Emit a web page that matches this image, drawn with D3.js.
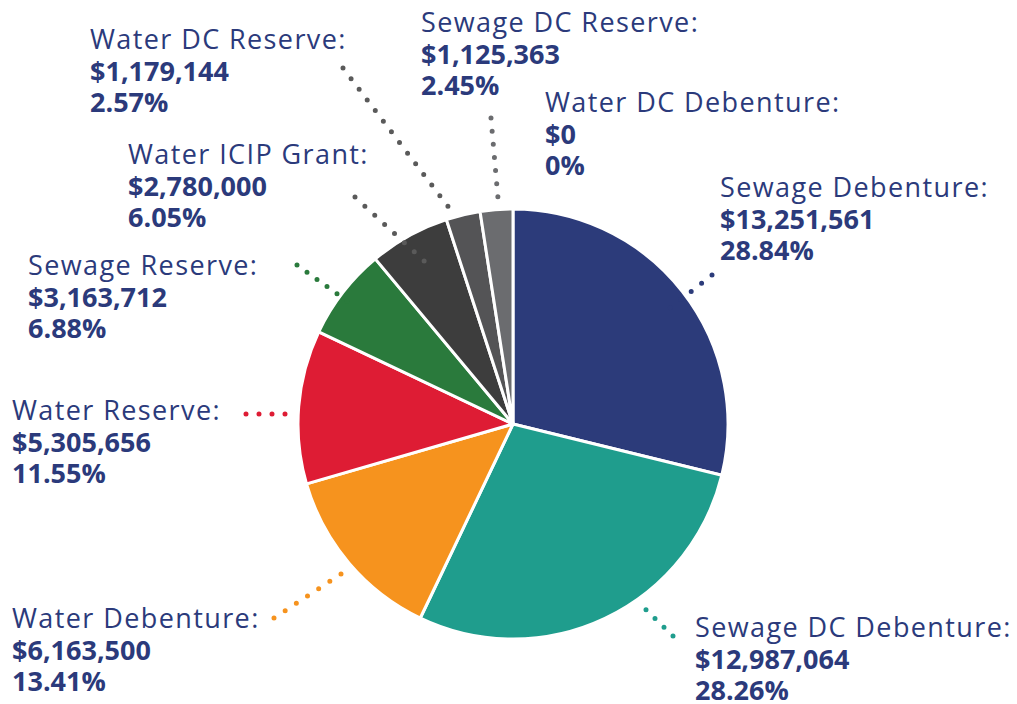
<!DOCTYPE html>
<html>
<head>
<meta charset="utf-8">
<script src="https://cdn.jsdelivr.net/npm/d3@7"></script>
<style>
  html, body { margin: 0; padding: 0; background: #ffffff; }
  svg { display: block; }
  text { font-family: "Open Sans", "Noto Sans", sans-serif; }
</style>
</head>
<body>
<svg id="chart" width="1017" height="704"></svg>
<script>
// Funding sources, clockwise from 12 o'clock
const categories = [
  "Sewage Debenture",
  "Sewage DC Debenture",
  "Water Debenture",
  "Water Reserve",
  "Sewage Reserve",
  "Water ICIP Grant",
  "Water DC Reserve",
  "Sewage DC Reserve",
  "Water DC Debenture"
];
const amounts = [13251561, 12987064, 6163500, 5305656, 3163712, 2780000, 1179144, 1125363, 0];
const percentLabels = ["28.84%", "28.26%", "13.41%", "11.55%", "6.88%", "6.05%", "2.57%", "2.45%", "0%"];
const sliceColors = ["#2c3b7a", "#1f9d8d", "#f6931e", "#de1c34", "#2a7a3c", "#3d3d3d", "#545456", "#6b6c6f", "#9a9a9a"];
const dotColors   = ["#2c3b7a", "#1f9d8d", "#f6931e", "#de1c34", "#2a7a3c", "#5a5a5a", "#5a5a5a", "#6b6c6f", "#9a9a9a"];

// Label placement: left x and baseline of the first line
const labelLayout = [
  { x: 720, y: 197 },
  { x: 695, y: 637 },
  { x: 12,  y: 628 },
  { x: 12,  y: 420 },
  { x: 28,  y: 275 },
  { x: 128, y: 164 },
  { x: 90,  y: 49 },
  { x: 421, y: 32 },
  { x: 545, y: 112 }
];
// Dotted leader from the label towards its slice
const leaderLayout = [
  { x1: 712, y1: 275, x2: 660, y2: 316 },
  { x1: 673, y1: 636, x2: 637, y2: 601 },
  { x1: 274, y1: 618, x2: 341, y2: 574 },
  { x1: 246, y1: 414, x2: 298, y2: 414 },
  { x1: 297, y1: 265, x2: 347, y2: 301 },
  { x1: 355, y1: 197, x2: 434, y2: 270 },
  { x1: 343, y1: 68,  x2: 456, y2: 217 },
  { x1: 491, y1: 118, x2: 499, y2: 210 },
  null
];

const svg = d3.select("#chart");
const cx = 513, cy = 424, radius = 215;
const textColor = "#2b3a7b";
const fmt = d3.format("$,");

const data = categories.map((name, i) => ({ name, value: amounts[i], pct: percentLabels[i], i }));

const pie = d3.pie().sort(null).value(d => d.value).startAngle(0).endAngle(2 * Math.PI);
const arc = d3.arc().innerRadius(0).outerRadius(radius);

const g = svg.append("g").attr("transform", `translate(${cx},${cy})`);
g.selectAll("path.slice")
  .data(pie(data).filter(d => d.data.value > 0))
  .join("path")
  .attr("class", "slice")
  .attr("d", arc)
  .attr("fill", d => sliceColors[d.data.i])
  .attr("stroke", "#ffffff")
  .attr("stroke-width", 3)
  .attr("stroke-linejoin", "round");

// Dotted leaders
const leaders = svg.append("g");
data.forEach(d => {
  const L = leaderLayout[d.i];
  if (!L) return;
  const len = Math.hypot(L.x2 - L.x1, L.y2 - L.y1);
  const gap = len / Math.max(1, Math.round(len / 13));
  leaders.append("line")
    .attr("x1", L.x1).attr("y1", L.y1)
    .attr("x2", L.x2).attr("y2", L.y2)
    .attr("stroke", dotColors[d.i])
    .attr("stroke-width", 5)
    .attr("stroke-linecap", "round")
    .attr("stroke-dasharray", `0 ${gap}`);
});

// Labels: name, amount, percentage
const lineGap = 31.5;
const labels = svg.append("g").attr("fill", textColor);
data.forEach(d => {
  const p = labelLayout[d.i];
  const t = labels.append("text").attr("x", p.x).attr("y", p.y);
  t.append("tspan").attr("x", p.x).attr("y", p.y)
    .attr("font-size", 27).attr("font-weight", 400)
    .attr("letter-spacing", 1.4)
    .text(d.name + ":");
  t.append("tspan").attr("x", p.x).attr("y", p.y + lineGap)
    .attr("font-size", 27).attr("font-weight", 700)
    .attr("letter-spacing", 0)
    .text(fmt(d.value));
  t.append("tspan").attr("x", p.x).attr("y", p.y + lineGap * 2)
    .attr("font-size", 27).attr("font-weight", 700)
    .attr("letter-spacing", 0)
    .text(d.pct);
});
</script>
</body>
</html>
